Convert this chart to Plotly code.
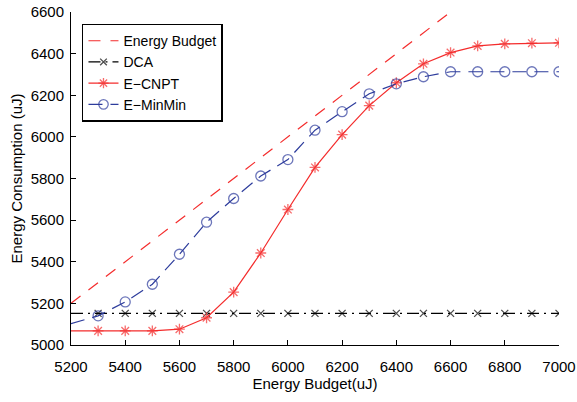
import plotly.graph_objects as go

budget = [5200, 5300, 5400, 5500, 5600, 5700, 5800, 5900, 6000, 6100,
          6200, 6300, 6400, 6500, 6600, 6700, 6800, 6900, 7000]
energy_budget = [5200, 5300, 5400, 5500, 5600, 5700, 5800, 5900, 6000, 6100,
                 6200, 6300, 6400, 6500, 6600, 6700, 6800, 6900, 7000]
dca = [5152] * 19
e_cnpt = [5068, 5068, 5068, 5068, 5076, 5131, 5254, 5442, 5651, 5853,
          6011, 6150, 6260, 6351, 6405, 6437, 6447, 6450, 6452]
e_minmin = [5103, 5140, 5207, 5292, 5436, 5590, 5704, 5812, 5891, 6032,
            6121, 6207, 6255, 6289, 6313, 6313, 6313, 6313, 6313]

x_ticks = [5200, 5400, 5600, 5800, 6000, 6200, 6400, 6600, 6800, 7000]
y_ticks = [5000, 5200, 5400, 5600, 5800, 6000, 6200, 6400, 6600]

RED = "#f42c2c"
BLUE = "#2d3c9c"
BLACK = "#000000"
FONT = "Liberation Sans, Arial, Helvetica, sans-serif"

msize = lambda s: [0] + [s] * (len(budget) - 1)

fig = go.Figure()
fig.add_trace(go.Scatter(
    x=budget, y=energy_budget, mode="lines", name="Energy Budget",
    line=dict(color=RED, width=1.2, dash="12px,10px")))
fig.add_trace(go.Scatter(
    x=budget, y=dca, mode="lines+markers", name="DCA",
    line=dict(color=BLACK, width=1.2, dash="12px,5px,2px,5px"),
    marker=dict(symbol="x-thin-open", size=msize(7),
                line=dict(color=BLACK, width=1.3))))
fig.add_trace(go.Scatter(
    x=budget, y=e_cnpt, mode="lines+markers", name="E\u2212CNPT",
    line=dict(color=RED, width=1.2),
    marker=dict(symbol="asterisk-open", size=msize(9),
                line=dict(color=RED, width=1.3))))
fig.add_trace(go.Scatter(
    x=budget, y=e_minmin, mode="lines+markers", name="E\u2212MinMin",
    line=dict(color=BLUE, width=1.2, dash="14px,8px"),
    marker=dict(symbol="circle-open", size=msize(10),
                line=dict(color=BLUE, width=1.3))))

axis_common = dict(
    showline=True, linecolor="black", linewidth=1,
    ticks="inside", ticklen=5, tickcolor="black", tickwidth=1,
    showgrid=False, zeroline=False, mirror=False, automargin=False,
    ticklabeloverflow="allow",
    tickfont=dict(family=FONT, size=15, color="black"),
    title_font=dict(family=FONT, size=15, color="black"),
)

fig.update_layout(
    width=577, height=402,
    margin=dict(l=71, r=18, t=12, b=57, autoexpand=False),
    paper_bgcolor="white", plot_bgcolor="white",
    font=dict(family=FONT, size=15, color="black"),
    xaxis=dict(range=[5200, 7000], tickvals=x_ticks,
               ticktext=[str(v) for v in x_ticks],
               title=dict(text="Energy Budget(uJ)", standoff=4),
               ticklabelstandoff=8, **axis_common),
    yaxis=dict(range=[5000, 6600], tickvals=y_ticks,
               ticktext=[str(v) for v in y_ticks],
               title=dict(text="Energy Consumption (uJ)", standoff=4),
               ticklabelstandoff=3, **axis_common),
    legend=dict(x=0.0225, y=0.965, xanchor="left", yanchor="top",
                bordercolor="black", borderwidth=1.5, bgcolor="white",
                font=dict(family=FONT, size=14), itemwidth=30, tracegroupgap=0),
    showlegend=True,
)

fig.write_html("out.html", config={"displayModeBar": False},
               post_script="document.body.style.margin='0';")
